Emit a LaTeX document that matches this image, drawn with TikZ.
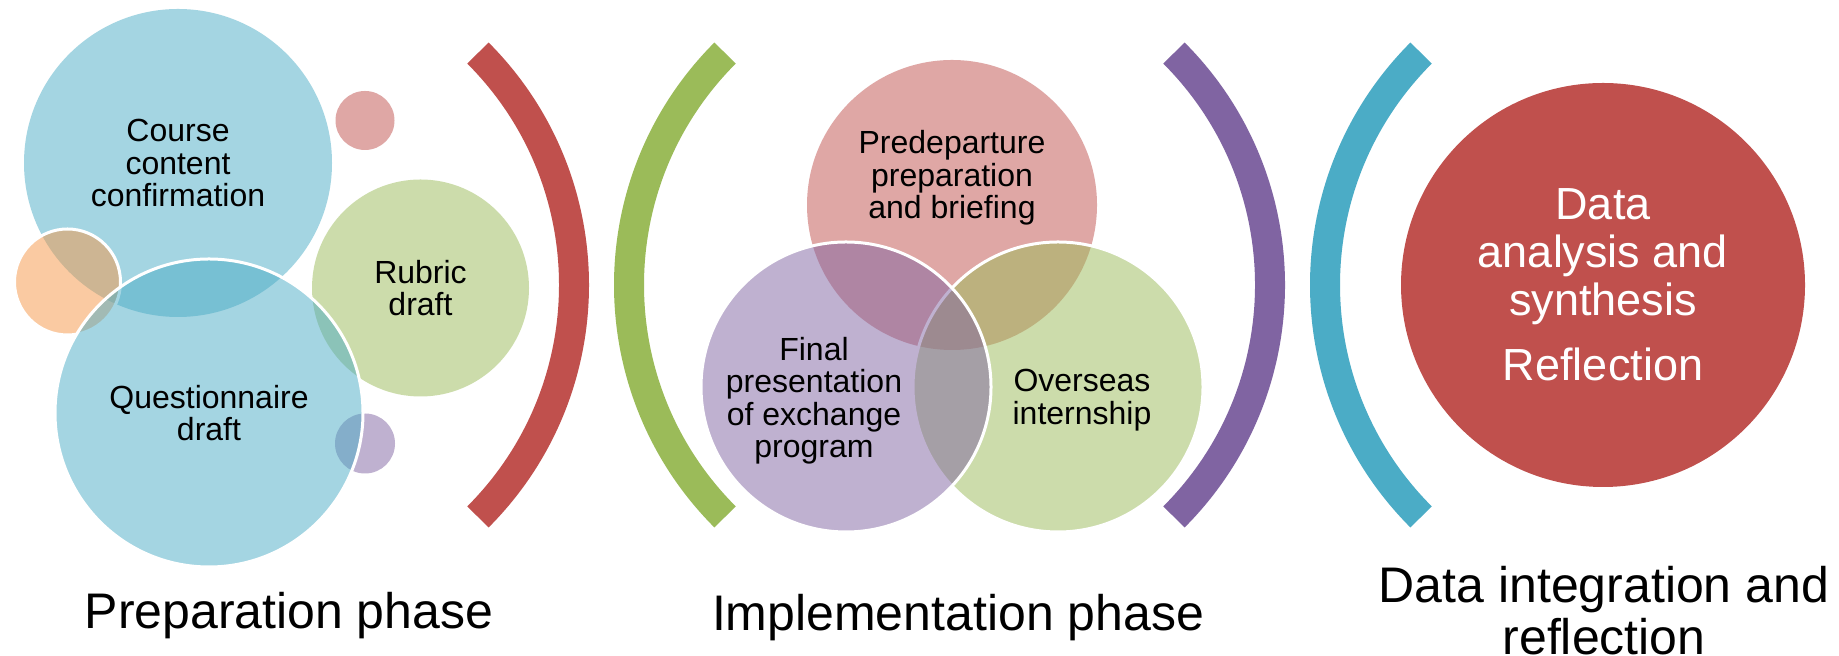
\documentclass[tikz,border=0pt]{standalone}
\usepackage{fontspec}
\setmainfont{Liberation Sans}
\usepackage{tikz}
\usepackage{xcolor}

\definecolor{accblue}{HTML}{4BACC6}
\definecolor{accred}{HTML}{C0504D}
\definecolor{accgreen}{HTML}{9BBB59}
\definecolor{accpurple}{HTML}{8064A2}
\definecolor{accorange}{HTML}{F79646}

\begin{document}
\begin{tikzpicture}[x=0.5pt,y=0.5pt,
    bubble/.style={circle,inner sep=0pt,fill opacity=.5,text opacity=1,
      align=center,font=\fontsize{16}{16.25}\selectfont},
    rim/.style={draw=white,draw opacity=1,line width=1.5pt},
    band/.style={line width=15pt},
    phase/.style={align=center,font=\fontsize{25}{26}\selectfont}]
        \useasboundingbox (0,0) rectangle (1839,656);
        \fill[white] (0,0) rectangle (1839,656);
        \clip (0,0) rectangle (1839,656);

        % preparation bubbles
        \node[bubble,fill=accblue,minimum size=154pt] (course) at (178,493)
            {Course\\content\\confirmation};
        \node[bubble,fill=accred,minimum size=29.5pt] (pinkdot) at (365,535.5) {};
        \node[bubble,rim,fill=accorange,minimum size=53pt] (orangedot) at (67.5,374) {};
        \node[bubble,fill=accgreen,minimum size=108.5pt] (rubric) at (420.5,368)
            {Rubric\\draft};
        \node[bubble,fill=accpurple,minimum size=30pt] (lilacdot) at (365,212.5) {};
        \node[bubble,rim,fill=accblue,minimum size=154pt] (quest) at (209,243)
            {Questionnaire\\draft};

        % brackets
        \coordinate (prepR) at (246,371);
        \coordinate (implL) at (957,371);
        \coordinate (implR) at (942,371);
        \coordinate (dataL) at (1653,371);
        \draw[band,accred] (prepR) ++(-45:164pt) arc[start angle=-45,end angle=45,radius=164pt];
        \draw[band,accgreen] (implL) ++(135:164pt) arc[start angle=135,end angle=225,radius=164pt];
        \draw[band,accpurple] (implR) ++(-45:164pt) arc[start angle=-45,end angle=45,radius=164pt];
        \draw[band,accblue] (dataL) ++(135:164pt) arc[start angle=135,end angle=225,radius=164pt];

        % implementation venn
        \node[bubble,fill=accred,minimum size=145pt] (predep) at (952,451) {};
        \node[bubble,rim,fill=accgreen,minimum size=145pt] (overseas) at (1058,269) {};
        \node[bubble,rim,fill=accpurple,minimum size=145pt] (finalpres) at (846,269) {};
        \node[bubble,fill opacity=1] at ([shift={(0,27)}]predep.center)
            {Predeparture\\preparation\\and briefing};
        \node[bubble,fill opacity=1] at ([shift={(-32,-13.5)}]finalpres.center)
            {Final\\presentation\\of exchange\\program};
        \node[bubble,fill opacity=1] at ([shift={(24,-13)}]overseas.center)
            {Overseas\\internship};

        % integration
        \node[bubble,fill=accred,fill opacity=1,minimum size=202pt,text=white,
            font=\fontsize{22.5}{24}\selectfont] (synth) at (1603,371)
            {Data\\analysis and\\synthesis\\[8.5pt]Reflection};

        % phase captions (base = last line)
        \node[phase,anchor=base] (prepcap) at (289,27) {Preparation phase};
        \node[phase,anchor=base] (implcap) at (958,25) {Implementation phase};
        \node[phase,anchor=base] (datacap) at (1604,1) {Data integration and\\reflection};
    \end{tikzpicture}
\end{document}
